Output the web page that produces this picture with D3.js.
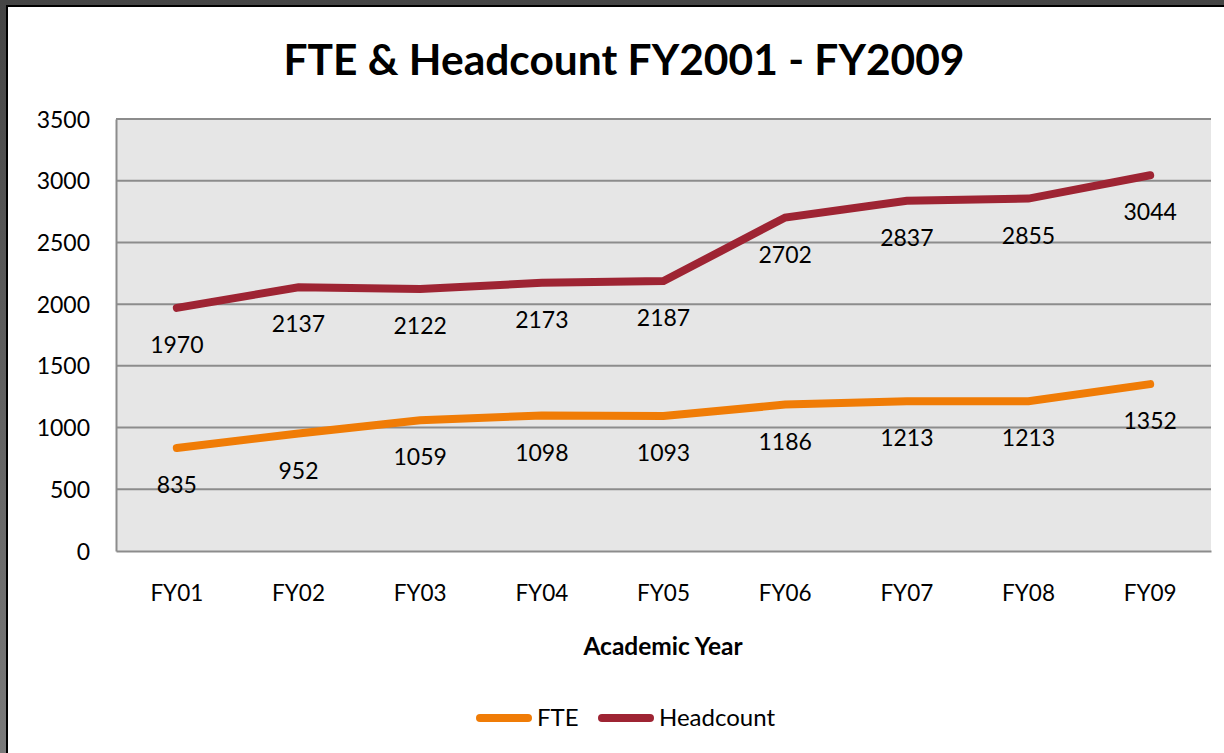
<!DOCTYPE html>
<html>
<head>
<meta charset="utf-8">
<script src="https://cdn.jsdelivr.net/npm/d3@7"></script>
<style>
  html, body { margin: 0; padding: 0; }
  body { width: 1224px; height: 753px; overflow: hidden; }
  text { font-family: Lato, "Open Sans", sans-serif; fill: #000; }
</style>
</head>
<body>
<div id="viz"></div>
<script>
// chart values
var years = ["FY01", "FY02", "FY03", "FY04", "FY05", "FY06", "FY07", "FY08", "FY09"];
var fte = [835, 952, 1059, 1098, 1093, 1186, 1213, 1213, 1352];
var headcount = [1970, 2137, 2122, 2173, 2187, 2702, 2837, 2855, 3044];
var yTicks = [0, 500, 1000, 1500, 2000, 2500, 3000, 3500];
var seriesNames = ["FTE", "Headcount"];
var seriesColors = ["#f07c06", "#9e2433"];

var width = 1224, height = 753;
var plot = {left: 116, right: 1211, top: 119, bottom: 551};

var svg = d3.select("#viz").append("svg")
    .attr("width", width)
    .attr("height", height);

// window frame round the chart
var grad = svg.append("defs").append("linearGradient")
    .attr("id", "frame").attr("x1", 0).attr("y1", 0).attr("x2", 0).attr("y2", 1);
grad.append("stop").attr("offset", "0%").attr("stop-color", "#454545");
grad.append("stop").attr("offset", "100%").attr("stop-color", "#7a7a7a");
svg.append("rect").attr("width", width).attr("height", height).attr("fill", "url(#frame)");
svg.append("rect").attr("x", 6).attr("y", 5).attr("width", width).attr("height", height)
    .attr("fill", "#000");
svg.append("rect").attr("x", 8).attr("y", 7).attr("width", width).attr("height", height)
    .attr("fill", "#fff");

var x = d3.scaleBand().domain(years).range([plot.left, plot.right]);
var y = d3.scaleLinear().domain([0, 3500]).range([plot.bottom, plot.top]);

// plot background
svg.append("rect")
    .attr("x", plot.left).attr("y", plot.top)
    .attr("width", plot.right - plot.left).attr("height", plot.bottom - plot.top)
    .attr("fill", "#e6e6e6");

// gridlines
svg.append("g").selectAll("line")
    .data(yTicks.filter(function(d) { return d > 0; }))
  .enter().append("line")
    .attr("x1", plot.left).attr("x2", plot.right)
    .attr("y1", function(d) { return y(d); })
    .attr("y2", function(d) { return y(d); })
    .attr("stroke", "#8c8c8c").attr("stroke-width", 2);

// y axis
var yAxis = svg.append("g")
    .attr("transform", "translate(" + plot.left + ",0)")
    .call(d3.axisLeft(y).tickValues(yTicks).tickFormat(d3.format("d")).tickSize(0).tickPadding(26));
yAxis.select(".domain").attr("stroke", "#8c8c8c").attr("stroke-width", 2);
yAxis.selectAll("text").style("font-size", "23px").attr("dy", "0.35em");

// x axis
var xAxis = svg.append("g")
    .attr("transform", "translate(0," + plot.bottom + ")")
    .call(d3.axisBottom(x).tickSize(0).tickPadding(34));
xAxis.select(".domain").attr("stroke", "#8c8c8c").attr("stroke-width", 2);
xAxis.selectAll("text").style("font-size", "22.5px");

// lines
var line = d3.line()
    .x(function(d, i) { return x(years[i]) + x.bandwidth() / 2; })
    .y(function(d) { return y(d); });

[fte, headcount].forEach(function(values, s) {
  svg.append("path")
      .datum(values)
      .attr("d", line)
      .attr("fill", "none")
      .attr("stroke", seriesColors[s])
      .attr("stroke-width", 8)
      .attr("stroke-linecap", "round")
      .attr("stroke-linejoin", "miter");

  svg.append("g").selectAll("text")
      .data(values)
    .enter().append("text")
      .attr("x", function(d, i) { return x(years[i]) + x.bandwidth() / 2; })
      .attr("y", function(d) { return y(d) + 37; })
      .attr("dy", "0.35em")
      .attr("text-anchor", "middle")
      .style("font-size", "23px")
      .text(function(d) { return d; });
});

// title
svg.append("text")
    .attr("x", 624).attr("y", 60)
    .attr("dy", "0.35em")
    .attr("text-anchor", "middle")
    .style("font-size", "42.5px")
    .style("font-weight", "bold")
    .text("FTE & Headcount FY2001 - FY2009");

// axis title
svg.append("text")
    .attr("x", 663).attr("y", 646)
    .attr("dy", "0.35em")
    .attr("text-anchor", "middle")
    .style("font-size", "24.5px")
    .style("font-weight", "bold")
    .text("Academic Year");

// legend
var legendX = [476, 598];
var legend = svg.append("g").selectAll("g")
    .data(seriesNames)
  .enter().append("g")
    .attr("transform", function(d, i) { return "translate(" + legendX[i] + ",718)"; });
legend.append("line")
    .attr("x1", 4).attr("x2", 52)
    .attr("stroke", function(d, i) { return seriesColors[i]; })
    .attr("stroke-width", 8)
    .attr("stroke-linecap", "round");
legend.append("text")
    .attr("x", 61)
    .attr("dy", "0.35em")
    .style("font-size", "24px")
    .text(function(d) { return d; });
</script>
</body>
</html>
